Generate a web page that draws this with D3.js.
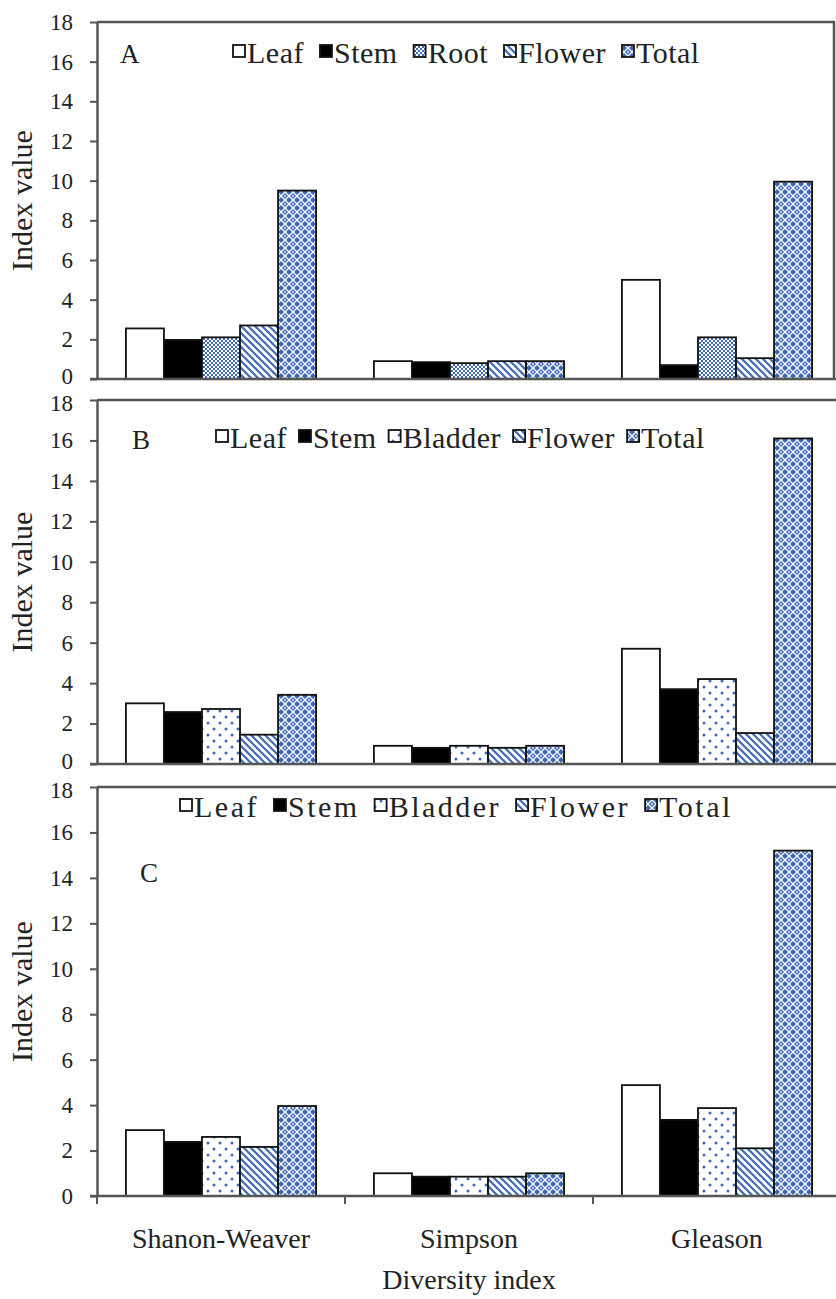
<!DOCTYPE html>
<html>
<head>
<meta charset="utf-8">
<script src="https://cdn.jsdelivr.net/npm/d3@7"></script>
<style>
  body { margin: 0; background: #fff; }
  svg text { font-family: "Liberation Serif", "Times New Roman", Tinos, "DejaVu Serif", serif; }
</style>
</head>
<body>
<div id="chart"></div>
<script>
// categories on the x axis
var categories = ["Shanon-Weaver", "Simpson", "Gleason"];
var yTicks = [0, 2, 4, 6, 8, 10, 12, 14, 16, 18];

// panel A series
var seriesA = ["Leaf", "Stem", "Root", "Flower", "Total"];
var leafA = [2.55, 0.9, 5.0];
var stemA = [1.97, 0.85, 0.7];
var rootA = [2.1, 0.8, 2.1];
var flowerA = [2.7, 0.9, 1.05];
var totalA = [9.5, 0.9, 9.95];

// panel B series
var seriesB = ["Leaf", "Stem", "Bladder", "Flower", "Total"];
var leafB = [3.0, 0.9, 5.7];
var stemB = [2.57, 0.8, 3.7];
var bladderB = [2.72, 0.9, 4.2];
var flowerB = [1.45, 0.8, 1.53];
var totalB = [3.42, 0.9, 16.1];

// panel C series
var seriesC = ["Leaf", "Stem", "Bladder", "Flower", "Total"];
var leafC = [2.9, 1.0, 4.88];
var stemC = [2.38, 0.85, 3.35];
var bladderC = [2.6, 0.85, 3.87];
var flowerC = [2.16, 0.85, 2.1];
var totalC = [3.96, 1.0, 15.2];

var W = 836, H = 1299;
var left = 97, right = 841;
var serif = "'Liberation Serif', 'Times New Roman', Tinos, 'DejaVu Serif', serif";

var svg = d3.select("#chart").append("svg")
    .attr("width", W)
    .attr("height", H)
    .attr("font-family", serif);

// fill patterns
var defs = svg.append("defs");
var blue = "#3f69b8";

var p = defs.append("pattern").attr("id", "root").attr("patternUnits", "userSpaceOnUse")
    .attr("width", 4).attr("height", 4);
p.append("rect").attr("width", 4).attr("height", 4).attr("fill", "#fff");
p.append("rect").attr("width", 2).attr("height", 2).attr("fill", blue);
p.append("rect").attr("x", 2).attr("y", 2).attr("width", 2).attr("height", 2).attr("fill", blue);

p = defs.append("pattern").attr("id", "bladder").attr("patternUnits", "userSpaceOnUse")
    .attr("width", 12).attr("height", 12);
p.append("rect").attr("width", 12).attr("height", 12).attr("fill", "#fff");
p.append("circle").attr("cx", 3).attr("cy", 3).attr("r", 1.5).attr("fill", blue);
p.append("circle").attr("cx", 9).attr("cy", 9).attr("r", 1.5).attr("fill", blue);

p = defs.append("pattern").attr("id", "flower").attr("patternUnits", "userSpaceOnUse")
    .attr("width", 7).attr("height", 7);
p.append("rect").attr("width", 7).attr("height", 7).attr("fill", "#fff");
p.append("path").attr("d", "M-1,-1 L8,8 M-1,6 L1,8 M6,-1 L8,1")
    .attr("stroke", blue).attr("stroke-width", 2.2);

p = defs.append("pattern").attr("id", "total").attr("patternUnits", "userSpaceOnUse")
    .attr("width", 8).attr("height", 8);
p.append("rect").attr("width", 8).attr("height", 8).attr("fill", blue);
p.append("path").attr("d", "M0,4 L4,0 L8,4 L4,8 Z")
    .attr("fill", "none").attr("stroke", "#fff").attr("stroke-width", 1.3);
p.append("circle").attr("cx", 4).attr("cy", 4).attr("r", 0.9).attr("fill", "#fff");

var fills = {
    Leaf: "#fff",
    Stem: "#000",
    Root: "url(#root)",
    Bladder: "url(#bladder)",
    Flower: "url(#flower)",
    Total: "url(#total)"
};

var panels = [
    { letter: "A", series: seriesA, values: [leafA, stemA, rootA, flowerA, totalA],
      top: 22, bottom: 379, frameRight: 834, letterPos: [120, 63], legendX: 233, legendY: 63, spacing: 0.5, gap: 16 },
    { letter: "B", series: seriesB, values: [leafB, stemB, bladderB, flowerB, totalB],
      top: 400, bottom: 764, frameRight: 840, letterPos: [132, 449], legendX: 216, legendY: 448, spacing: 0.5, gap: 12 },
    { letter: "C", series: seriesC, values: [leafC, stemC, bladderC, flowerC, totalC],
      top: 787, bottom: 1196, frameRight: 840, letterPos: [140, 882], legendX: 180, legendY: 817, spacing: 2.5, gap: 15 }
];

var x0 = d3.scaleBand().domain(categories).range([left, right]);

panels.forEach(function (panel, pi) {
    var g = svg.append("g");
    var y = d3.scaleLinear().domain([0, 18]).range([panel.bottom, panel.top]);
    var x1 = d3.scaleBand().domain(panel.series).range([0, x0.bandwidth()])
        .paddingInner(0).paddingOuter(0.76);

    // frame (top and right)
    g.append("path")
        .attr("d", "M" + left + "," + panel.top + "H" + panel.frameRight + "V" + panel.bottom)
        .attr("fill", "none").attr("stroke", "#555").attr("stroke-width", 2.5);

    // bars
    var rows = categories.map(function (c, ci) {
        return panel.series.map(function (s, si) {
            return { cat: c, key: s, value: panel.values[si][ci] };
        });
    });
    var grp = g.selectAll(".grp").data(rows).enter().append("g")
        .attr("transform", function (d, i) { return "translate(" + x0(categories[i]) + ",0)"; });
    grp.selectAll("rect").data(function (d) { return d; }).enter().append("rect")
        .attr("x", function (d) { return x1(d.key); })
        .attr("y", function (d) { return y(d.value); })
        .attr("width", x1.bandwidth())
        .attr("height", function (d) { return y(0) - y(d.value); })
        .attr("fill", function (d) { return fills[d.key]; })
        .attr("stroke", "#111")
        .attr("stroke-width", 1.8);

    // y axis
    var yAxis = g.append("g")
        .attr("transform", "translate(" + left + ",0)")
        .call(d3.axisLeft(y).tickValues(yTicks).tickSize(7).tickPadding(17).tickSizeOuter(0));
    yAxis.attr("font-family", serif);
    yAxis.select(".domain").attr("stroke", "#555").attr("stroke-width", 2.5);
    yAxis.selectAll(".tick line").attr("stroke", "#555").attr("stroke-width", 2);
    yAxis.selectAll(".tick text").attr("font-size", 23).attr("fill", "#222")
        .attr("dy", function (d) {
            // nudge the stacked 0 / 18 labels between panels apart
            if (d === 0 && pi < 2) return "0.2em";
            if (d === 18 && pi > 0) return "0.45em";
            return "0.32em";
        });

    // x axis
    var xAxis = g.append("g")
        .attr("transform", "translate(0," + panel.bottom + ")")
        .call(d3.axisBottom(x0).tickSize(0).tickFormat(""));
    xAxis.select(".domain").attr("d", "M" + (left - 7) + ",0H" + right)
        .attr("stroke", "#555").attr("stroke-width", 2.5);

    // y axis title
    g.append("text")
        .attr("transform", "translate(32," + ((panel.top + panel.bottom) / 2) + ") rotate(-90)")
        .attr("text-anchor", "middle")
        .attr("font-size", 30)
        .attr("fill", "#222")
        .text("Index value");

    // panel letter
    g.append("text")
        .attr("x", panel.letterPos[0]).attr("y", panel.letterPos[1])
        .attr("font-size", 27).attr("fill", "#222")
        .text(panel.letter);

    // legend
    var lx = panel.legendX;
    panel.series.forEach(function (s) {
        g.append("rect")
            .attr("x", lx).attr("y", panel.legendY - 18)
            .attr("width", 12).attr("height", 12)
            .attr("fill", fills[s]).attr("stroke", "#111").attr("stroke-width", 1.8);
        var t = g.append("text")
            .attr("x", lx + 14).attr("y", panel.legendY)
            .attr("font-size", 30).attr("fill", "#222")
            .attr("letter-spacing", panel.spacing)
            .text(s);
        lx += 14 + t.node().getComputedTextLength() + panel.gap;
    });
});

// bottom x axis ticks and labels (panel C)
var last = panels[2];
var bottomG = svg.append("g").attr("transform", "translate(0," + last.bottom + ")");
var bounds = [left].concat(categories.map(function (c) { return x0(c) + x0.bandwidth(); }));
bottomG.selectAll(".xt").data(bounds).enter().append("line")
    .attr("x1", function (d) { return d; }).attr("x2", function (d) { return d; })
    .attr("y1", 0).attr("y2", 8)
    .attr("stroke", "#555").attr("stroke-width", 2);
bottomG.selectAll(".xl").data(categories).enter().append("text")
    .attr("x", function (d) { return x0(d) + x0.bandwidth() / 2; })
    .attr("y", 52)
    .attr("text-anchor", "middle")
    .attr("font-size", 28).attr("fill", "#222")
    .text(function (d) { return d; });

svg.append("text")
    .attr("x", x0("Simpson") + x0.bandwidth() / 2)
    .attr("y", 1289)
    .attr("text-anchor", "middle")
    .attr("font-size", 28).attr("fill", "#222")
    .text("Diversity index");
</script>
</body>
</html>
